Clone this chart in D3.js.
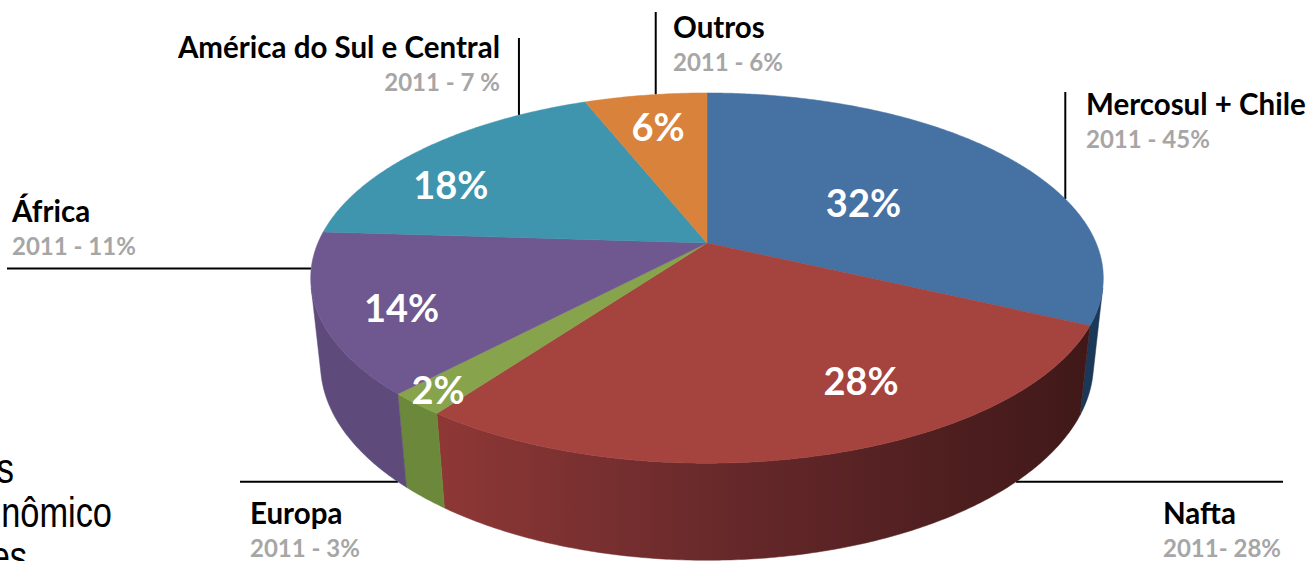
<!DOCTYPE html>
<html lang="pt">
<head>
<meta charset="UTF-8">
<title>Destino das exportações</title>
<script src="https://d3js.org/d3.v7.min.js"></script>
<style>
  body { margin: 0; background: #fff; }
  svg { display: block; }
</style>
</head>
<body>
<svg id="chart"></svg>
<script>
// data
const regions = ["Mercosul + Chile", "Nafta", "Europa", "África", "América do Sul e Central", "Outros"];
const shares = [32, 28, 2, 14, 18, 6];
const notes2011 = ["2011 - 45%", "2011- 28%", "2011 - 3%", "2011 - 11%", "2011 - 7 %", "2011 - 6%"];
const topColors = ["#4571a3", "#a5433f", "#87a34b", "#6f5790", "#3f95ad", "#d9823b"];
const wallColors = ["#1c3858", "url(#naftaWall)", "#6c883b", "#5e4a7b", "#2f7185", "#a8602a"];
const sideText = ["s", "nômico", "es"];

const width = 1309, height = 561;
const svg = d3.select("#chart").attr("width", width).attr("height", height);

// simple perspective camera for the 3d pie
const cx = 707, cy = 243, f = 1825, D = 4.69, elev = 27.3 * Math.PI / 180, depth = 0.25;
const se = Math.sin(elev), ce = Math.cos(elev);
function project(theta, r, y) {
  const X = r * Math.sin(theta), Z = -r * Math.cos(theta), Y = y;
  const v = Y * ce - Z * se;
  const w = Z * ce + Y * se;
  const s = f / (D - w);
  return [cx + X * s, cy - v * s];
}
const rad = d => d * Math.PI / 180;
function arcPts(a, b, y) {
  const n = Math.max(2, Math.ceil(Math.abs(b - a) / rad(0.5)));
  return d3.range(n + 1).map(i => project(a + (b - a) * i / n, 1, y));
}

const pie = d3.pie().sort(null).value(d => d)(shares);

const defs = svg.append("defs");
const p0 = project(rad(216), 1, 0), p1 = project(rad(110), 1, 0);
const g = defs.append("linearGradient").attr("id", "naftaWall")
  .attr("gradientUnits", "userSpaceOnUse")
  .attr("x1", p0[0]).attr("y1", 0).attr("x2", p1[0]).attr("y2", 0);
g.append("stop").attr("offset", 0).attr("stop-color", "#8e3836");
g.append("stop").attr("offset", 0.45).attr("stop-color", "#66282a");
g.append("stop").attr("offset", 1).attr("stop-color", "#3f1818");

// left side text fragment (cut off by the frame, as in the source slide)
svg.append("g")
  .selectAll("text").data(sideText).join("text")
  .attr("transform", (d, i) => `translate(${[14, 112, 27][i]},${483 + i * 44}) scale(0.8,1)`)
  .attr("text-anchor", "end")
  .style("font", "43px 'Liberation Sans', Arial, sans-serif")
  .attr("fill", "#000")
  .text(d => d);

// leader lines + outer labels
const leaders = [
  { anchor: 75, y: 0, dir: "v", end: 92, tx: 1086, ty: 115, anchorText: "start" },
  { anchor: 135, y: -depth, dir: "h", end: 1283, tx: 1163, ty: 524, anchorText: "start" },
  { anchor: 225, y: -depth, dir: "h", end: 240, tx: 250, ty: 524, anchorText: "start" },
  { anchor: 262, y: 0, dir: "h", end: 7, tx: 12, ty: 222, anchorText: "start" },
  { anchor: 326, y: 0, dir: "v", end: 38, tx: 500, ty: 58, anchorText: "end" },
  { anchor: 351, y: 0, dir: "v", end: 12, tx: 673, ty: 38, anchorText: "start" }
];
const lines = svg.append("g");
leaders.forEach((l, i) => {
  const a = project(rad(l.anchor), 1, l.y);
  const b = l.dir === "v" ? [a[0], l.end] : [l.end, a[1]];
  lines.append("line")
    .attr("x1", a[0]).attr("y1", a[1]).attr("x2", b[0]).attr("y2", b[1])
    .attr("stroke", "#000").attr("stroke-width", 2);
  lines.append("text")
    .attr("x", l.tx).attr("y", l.ty).attr("text-anchor", l.anchorText)
    .style("font", "bold 29.5px Lato, 'Open Sans', sans-serif").attr("fill", "#000")
    .text(regions[i]);
  lines.append("text")
    .attr("x", l.tx).attr("y", l.ty + 33).attr("text-anchor", l.anchorText)
    .style("font", "bold 24px Lato, 'Open Sans', sans-serif").attr("fill", "#a6a6a6")
    .text(notes2011[i]);
});

// visible part of the side wall
const lim = Math.acos(-1 / (D * ce));
const walls = svg.append("g");
pie.forEach((d, i) => {
  const a = Math.max(d.startAngle, lim), b = Math.min(d.endAngle, 2 * Math.PI - lim);
  if (b <= a) return;
  const pts = arcPts(a, b, 0).concat(arcPts(b, a, -depth));
  walls.append("path")
    .attr("d", d3.line()(pts) + "Z")
    .attr("fill", wallColors[i]).attr("stroke", wallColors[i]).attr("stroke-width", 0.5);
});

// top faces
const tops = svg.append("g");
pie.forEach((d, i) => {
  const pts = [[cx, cy]].concat(arcPts(d.startAngle, d.endAngle, 0));
  tops.append("path")
    .attr("d", d3.line()(pts) + "Z")
    .attr("fill", topColors[i]).attr("stroke", topColors[i]).attr("stroke-width", 0.5);
});

// percentage labels on the slices
const labelSpots = [[61, 0.48], [153, 0.76], [220, 0.93], [245, 0.81], [296, 0.78], [349, 0.75]];
svg.append("g")
  .selectAll("text").data(pie).join("text")
  .attr("x", (d, i) => project(rad(labelSpots[i][0]), labelSpots[i][1], 0)[0])
  .attr("y", (d, i) => project(rad(labelSpots[i][0]), labelSpots[i][1], 0)[1])
  .attr("dy", "0.36em")
  .attr("text-anchor", "middle")
  .style("font", "bold 38px Lato, 'Open Sans', sans-serif")
  .attr("fill", "#fff")
  .text(d => d.data + "%");
</script>
</body>
</html>
